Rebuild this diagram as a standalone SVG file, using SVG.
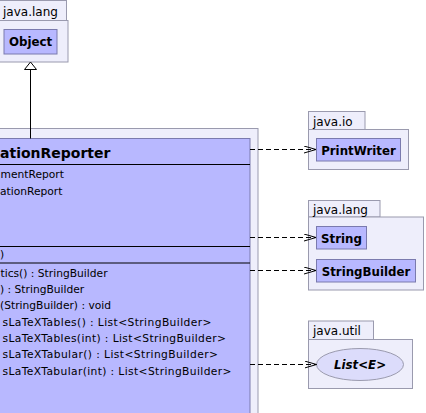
<svg xmlns="http://www.w3.org/2000/svg" width="426" height="413" viewBox="0 0 426 413">
<style>
.pkg{fill:#eeeefb;stroke:#9a9aae;stroke-width:1}
.cls{fill:#b8b8ff;stroke:#7a7aae;stroke-width:1}
.sep{stroke:#000;stroke-width:1}
.pt{font-family:"DejaVu Sans",sans-serif;font-size:12px;fill:#000}
.cn{font-family:"DejaVu Sans",sans-serif;font-size:11.8px;font-weight:bold;fill:#000}
.hn{font-family:"DejaVu Sans",sans-serif;font-size:14px;font-weight:bold;fill:#000}
.mb{font-family:"DejaVu Sans",sans-serif;font-size:10.7px;fill:#000}
.dep{fill:none;stroke:#000;stroke-width:1;stroke-dasharray:5,3}
</style>
<defs>
<marker id="open" markerWidth="13" markerHeight="10" refX="12" refY="4" orient="auto" markerUnits="userSpaceOnUse">
<path d="M0,0.5 L12,4 L0,7.5" fill="none" stroke="#000" stroke-width="1"/>
</marker>
</defs>

<g id="pkg-java-lang-top">
<rect class="pkg" x="-10" y="0.5" width="76.5" height="20"/>
<rect class="pkg" x="-10" y="20.5" width="78" height="41.5"/>
<text class="pt" x="3" y="15.5">java.lang</text>
</g>
<g id="Object">
<rect class="cls" x="4" y="29.5" width="53" height="24.5"/>
<text class="cn" x="30.5" y="46" text-anchor="middle">Object</text>
</g>

<g id="pkg-reporter">
<rect class="pkg" x="-10" y="128.5" width="268" height="300"/>
</g>
<g id="Reporter">
<rect class="cls" x="-10" y="138.5" width="260" height="290"/>
<line class="sep" x1="-10" y1="164.5" x2="250" y2="164.5"/>
<line class="sep" x1="-10" y1="246.5" x2="250" y2="246.5"/>
<line class="sep" x1="-10" y1="263" x2="250" y2="263"/>
<text class="hn" x="0" y="158">ationReporter</text>
<text class="mb" x="0.5" y="178">mentReport</text>
<text class="mb" x="0" y="194.5">ationReport</text>
<text class="mb" x="0" y="258">)</text>
<text class="mb" x="0.5" y="276.5">tics() : StringBuilder</text>
<text class="mb" x="0" y="292.5">) : StringBuilder</text>
<text class="mb" x="0" y="309">(StringBuilder) : void</text>
<text class="mb" x="2.5" y="325.5" textLength="209" lengthAdjust="spacing">sLaTeXTables() : List&lt;StringBuilder&gt;</text>
<text class="mb" x="2.5" y="342" textLength="223.5" lengthAdjust="spacing">sLaTeXTables(int) : List&lt;StringBuilder&gt;</text>
<text class="mb" x="2.5" y="358" textLength="215.5" lengthAdjust="spacing">sLaTeXTabular() : List&lt;StringBuilder&gt;</text>
<text class="mb" x="2.5" y="374.5" textLength="229" lengthAdjust="spacing">sLaTeXTabular(int) : List&lt;StringBuilder&gt;</text>
</g>

<g id="pkg-java-io">
<rect class="pkg" x="308.5" y="111.5" width="56.5" height="18"/>
<rect class="pkg" x="308.5" y="129.5" width="100" height="40"/>
<text class="pt" x="313" y="125.5">java.io</text>
</g>
<g id="PrintWriter">
<rect class="cls" x="316.5" y="138.5" width="84" height="22.5"/>
<text class="cn" x="358.5" y="154.5" text-anchor="middle">PrintWriter</text>
</g>

<g id="pkg-java-lang">
<rect class="pkg" x="308.5" y="200.5" width="71.5" height="16.5"/>
<rect class="pkg" x="308.5" y="217" width="115" height="73"/>
<text class="pt" x="313" y="213.5">java.lang</text>
</g>
<g id="String">
<rect class="cls" x="316.5" y="226.5" width="50" height="22.5"/>
<text class="cn" x="341.5" y="242.5" text-anchor="middle">String</text>
</g>
<g id="StringBuilder">
<rect class="cls" x="316.5" y="259.5" width="99" height="22.5"/>
<text class="cn" x="366" y="275.5" text-anchor="middle">StringBuilder</text>
</g>

<g id="pkg-java-util">
<rect class="pkg" x="308.5" y="321" width="65" height="18.5"/>
<rect class="pkg" x="308.5" y="339.5" width="104" height="49"/>
<text class="pt" x="313" y="334.5">java.util</text>
</g>
<g id="List">
<ellipse cx="360" cy="364.5" rx="43.5" ry="16" fill="#dcdcfb" stroke="#9a9aae" stroke-width="1"/>
<text class="cn" x="360" y="369" text-anchor="middle" font-style="italic">List&lt;E&gt;</text>
</g>

<g id="connectors">
<line x1="30.5" y1="69" x2="30.5" y2="138.5" stroke="#000" stroke-width="1"/>
<path d="M30.5,62 L36.5,69.5 L24.5,69.5 Z" fill="#fff" stroke="#000" stroke-width="1"/>
<line class="dep" x1="250" y1="149.5" x2="316" y2="149.5" marker-end="url(#open)"/>
<line class="dep" x1="250" y1="237.5" x2="316" y2="237.5" marker-end="url(#open)"/>
<line class="dep" x1="250" y1="270.5" x2="316" y2="270.5" marker-end="url(#open)"/>
<line class="dep" x1="250" y1="364.5" x2="316.5" y2="364.5" marker-end="url(#open)"/>
</g>
</svg>
